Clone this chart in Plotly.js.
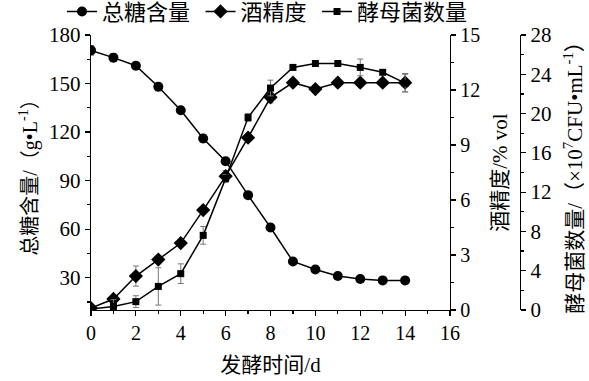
<!DOCTYPE html>
<html><head><meta charset="utf-8">
<script src="https://cdn.plot.ly/plotly-3.0.1.min.js"></script>
<style>body{margin:0;padding:0;background:#fff}#chart{width:589px;height:381px}</style>
</head><body><div id="chart"></div>
<script>
const days = [0,1,2,3,4,5,6,7,8,9,10,11,12,13,14];
const sugar = [170.5,166,161,148,133.5,116,102,81,61,40,35,31,29.2,28.3,28.3];
const sugarErr = [3,2.5,0,2.5,0,2.5,1.5,2,0,0,0,0,0,0,0];
const alcohol = [0.1,0.6,1.85,2.75,3.65,5.45,7.3,9.4,11.6,12.4,12.05,12.4,12.4,12.4,12.4];
const alcoholErr = [0,0.15,0.55,0,0,0,0.3,0,0.3,0,0,0,0,0,0.5];
const yeast = [0.1,0.35,0.85,2.4,3.7,7.6,13.4,19.6,22.6,24.7,25.1,25.1,24.7,24.2,23.1];
const yeastErr = [0.3,0.7,0.6,1.9,1.0,0.9,0.4,0.4,0.8,0,0,0,0.85,0,0.9];
const names = ['总糖含量','酒精度','酵母菌数量'];

const FONT = 'Liberation Serif, Times New Roman, Noto Sans CJK SC, serif';
const PAD = '\u00a0';
const errStyle = (arr) => ({type:'data', array:arr, visible:true, color:'#777', thickness:1, width:3});
const lineStyle = {color:'#000', width:1.5};

const traces = [
  {x:days, y:sugar, name:names[0] + PAD, type:'scatter', mode:'lines+markers', yaxis:'y',
   line:lineStyle, marker:{symbol:'circle', size:10, color:'#000'}, error_y:errStyle(sugarErr)},
  {x:days, y:alcohol, name:names[1] + PAD, type:'scatter', mode:'lines+markers', yaxis:'y2',
   line:lineStyle, marker:{symbol:'diamond', size:11, color:'#000'}, error_y:errStyle(alcoholErr)},
  {x:days, y:yeast, name:names[2], type:'scatter', mode:'lines+markers', yaxis:'y3',
   line:lineStyle, marker:{symbol:'square', size:7, color:'#000'}, error_y:errStyle(yeastErr)}
];

const axCommon = {showgrid:false, zeroline:false, showline:true, linecolor:'#000', linewidth:1.2,
  ticks:'outside', ticklen:5, tickwidth:1.2, tickcolor:'#000', automargin:false,
  tickfont:{family:FONT, size:20, color:'#000'}};
const tf = (s) => ({family:FONT, size:s, color:'#000'});

const layout = {
  width:589, height:381,
  margin:{l:91, r:45, t:35, b:71, autoexpand:false},
  paper_bgcolor:'#fff', plot_bgcolor:'#fff',
  font:{family:FONT, color:'#000'},
  showlegend:true,
  legend:{orientation:'h', x:-0.064, y:1.085, xanchor:'left', yanchor:'middle',
    font:tf(22), bgcolor:'rgba(0,0,0,0)', itemwidth:30, tracegroupgap:0},
  xaxis:Object.assign({}, axCommon, {domain:[0,0.7925], range:[0,16], dtick:2, tick0:0,
    tickfont:tf(20),
    minor:{dtick:1, ticks:'outside', ticklen:3, tickcolor:'#000'},
    title:{text:'发酵时间/d', font:tf(21), standoff:14}}),
  yaxis:Object.assign({}, axCommon, {range:[10,180], dtick:30, tick0:0,
    tickfont:tf(21),
    minor:{dtick:15, ticks:'outside', ticklen:3, tickcolor:'#000'},
    title:{text:'总糖含量/（g•L<sup>-1</sup>）', font:tf(20), standoff:6}}),
  yaxis2:Object.assign({}, axCommon, {overlaying:'y', side:'right', anchor:'x', range:[0,15], dtick:3, tick0:0,
    tickfont:tf(20),
    minor:{dtick:1.5, ticks:'outside', ticklen:3, tickcolor:'#000'},
    title:{text:'酒精度/% vol', font:tf(21), standoff:13}}),
  yaxis3:Object.assign({}, axCommon, {overlaying:'y', side:'right', anchor:'free', position:0.947,
    range:[0,28], dtick:4, tick0:0,
    tickfont:tf(21),
    minor:{dtick:2, ticks:'outside', ticklen:3, tickcolor:'#000'},
    title:{text:'酵母菌数量/（×10<sup>7</sup>CFU•mL<sup>-1</sup>）', font:tf(21), standoff:16}})
};

Plotly.newPlot('chart', traces, layout, {displayModeBar:false, staticPlot:true});
</script></body></html>
